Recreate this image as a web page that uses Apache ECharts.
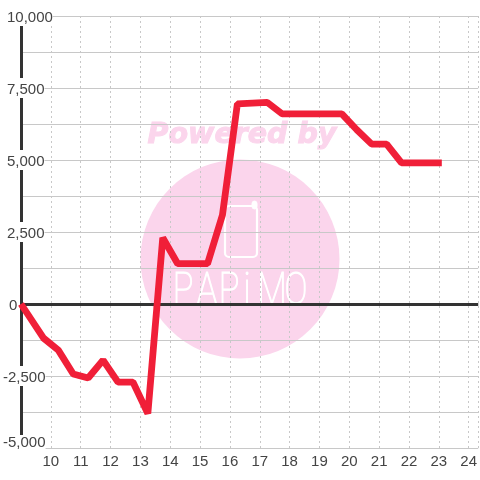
<!DOCTYPE html>
<html><head><meta charset="utf-8">
<style>html,body{margin:0;padding:0;background:#fff}#c{width:480px;height:480px}</style>
<script src="https://cdn.jsdelivr.net/npm/echarts@6/dist/echarts.min.js"></script>
</head><body><div id="c"></div>
<script>
var hours = [9,9.75,10.25,10.75,11.25,11.75,12.25,12.75,13.25,13.75,14.25,15.25,15.75,16.25,17.25,17.75,19.75,20.25,20.75,21.25,21.75,23.1];
var values = [0,-1180,-1600,-2430,-2570,-1950,-2710,-2710,-3800,2300,1400,1400,3090,6950,7000,6600,6600,6050,5550,5550,4900,4900];
var yTickLabels = {'10000':'10,000','7500':'7,500','5000':'5,000','2500':'2,500','0':'0','-2500':'-2,500','-5000':'-5,000'};
var logoLetters = ['P','A','P','i','M','O'];
var logoX = [183,207,229,247,272,296];

var chart = echarts.init(document.getElementById('c'), null, {renderer:'canvas'});
var FONT = '"Liberation Sans", Arial, sans-serif';
var PINK = '#fbd5ec';
var graphics = [
  {type:'circle', z:-10, silent:true, shape:{cx:240,cy:259,r:99.5}, style:{fill:PINK}},
  {type:'text', z:-10, silent:true, x:242, y:136, style:{text:'Powered by', fill:PINK, stroke:PINK, lineWidth:1, font:'italic bold 28.5px "DejaVu Sans"', textAlign:'center', textVerticalAlign:'middle'}},
  {type:'rect', z:-9, silent:true, shape:{x:225,y:206,width:32,height:51,r:4}, style:{fill:'transparent', stroke:'#fff', lineWidth:2.2}},
  {type:'rect', z:-9, silent:true, shape:{x:252,y:201,width:5,height:8,r:2.5}, style:{fill:'#fff', stroke:'#fff', lineWidth:1}}
];
logoLetters.forEach(function(l,i){
  graphics.push({type:'text', z:-9, silent:true, x:logoX[i], y:293, scaleX:0.78, style:{text:l, fill:'#fff', stroke:'#fff', lineWidth:1.2, font:'100 44px Roboto', textAlign:'center', textVerticalAlign:'middle'}});
});

var paddings = {'10000':4,'7500':4,'5000':4,'2500':4,'0':6,'-2500':0,'-5000':0};
var base = {color:'#444',fontFamily:FONT,fontSize:15,height:16};
chart.setOption({
  animation:false,
  backgroundColor:'#fff',
  graphic:graphics,
  grid:{left:20.5,right:0,top:16,height:432,containLabel:false},
  xAxis:{type:'value',min:9,max:24.32,interval:1,
    axisLine:{show:false},axisTick:{show:false},
    splitLine:{show:true,lineStyle:{color:'#c8c8c8',type:[2,3],width:1}},
    axisLabel:{color:'#444',fontFamily:FONT,fontSize:15,margin:6,showMinLabel:false,showMaxLabel:false,
      formatter:function(v){return (v>=10&&Number.isInteger(v))?String(v):'';}}},
  yAxis:{type:'value',min:-5000,max:10000,interval:1250,
    axisLine:{show:true,onZero:false,lineStyle:{color:'#333',width:3}},axisTick:{show:false},
    splitLine:{show:true,lineStyle:{color:'#c8c8c8',width:1}},
    axisLabel:{show:true,align:'left',margin:18,hideOverlap:false,showMinLabel:true,showMaxLabel:true,
      formatter:function(v){
        var s=yTickLabels[String(v)];if(!s)return '';
        if(v===-5000)return '{low|'+s+'}';
        return '{p'+paddings[String(v)]+'|'+s+'}';
      },
      rich:{
        p0:Object.assign({},base,{backgroundColor:'#fff',padding:[4,0,0,0]}),
        p4:Object.assign({},base,{backgroundColor:'#fff',padding:[4,0,0,4]}),
        p6:Object.assign({},base,{padding:[4,0,0,6]}),
        low:Object.assign({},base,{backgroundColor:'#fff',padding:[0,0,10,0]})
      }}},
  series:[{type:'line',data:hours.map(function(h,i){return [h,values[i]];}),
    showSymbol:false,symbol:'none',clip:false,smooth:false,z:5,
    lineStyle:{color:'#f01f38',width:6.8,cap:'butt',join:'bevel'},
    markLine:{silent:true,symbol:'none',label:{show:false},z:3,animation:false,
      lineStyle:{color:'#333',width:3,type:'solid'},data:[{yAxis:0}]}}]
});
</script></body></html>
